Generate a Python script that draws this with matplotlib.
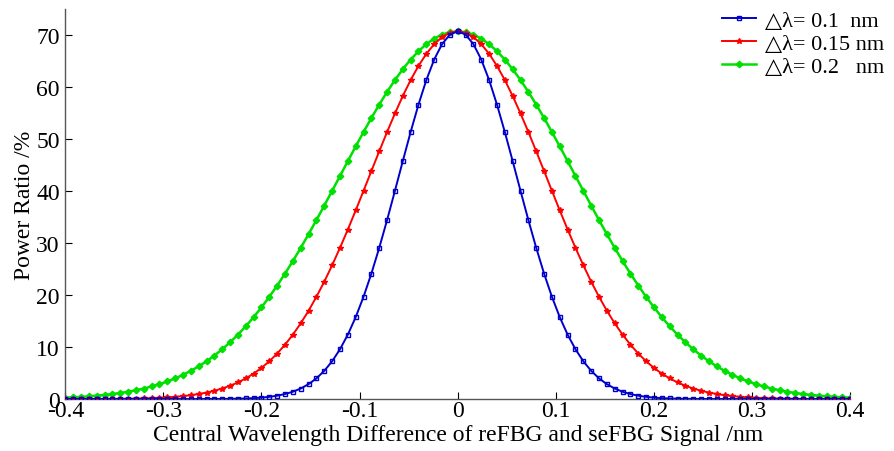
import numpy as np
import matplotlib
matplotlib.use("Agg")
import matplotlib.pyplot as plt

plt.rcParams['font.family'] = ['Liberation Serif', 'DejaVu Serif']
plt.rcParams['mathtext.fontset'] = 'stix'

# x grid: -0.4 .. 0.4 nm, 101 samples
x = np.linspace(-0.4, 0.4, 101)

blue = [0.0, 0.0, 0.0, 0.0, 0.0, 0.0, 0.0, 0.0, 0.0, 0.0, 0.0, 0.0, 0.0, 0.0, 0.0, 0.0, 0.0, 0.0,
        0.01, 0.01, 0.02, 0.04, 0.07, 0.11, 0.17, 0.27, 0.42, 0.64, 0.96, 1.40, 2.02, 2.86, 3.97,
        5.42, 7.26, 9.57, 12.38, 15.74, 19.66, 24.12, 29.07, 34.41, 40.03, 45.74, 51.34, 56.61,
        61.33, 65.27, 68.23, 70.07,
        70.7,
        70.07, 68.23, 65.27, 61.33, 56.61, 51.34, 45.74, 40.03, 34.41, 29.07, 24.12, 19.66, 15.74,
        12.38, 9.57, 7.26, 5.42, 3.97, 2.86, 2.02, 1.40, 0.96, 0.64, 0.42, 0.27, 0.17, 0.11, 0.07,
        0.04, 0.02, 0.01, 0.01,
        0.0, 0.0, 0.0, 0.0, 0.0, 0.0, 0.0, 0.0, 0.0, 0.0, 0.0, 0.0, 0.0, 0.0, 0.0, 0.0, 0.0, 0.0]

red = [0.00, 0.01, 0.01, 0.01, 0.02, 0.02, 0.03, 0.05, 0.07, 0.09, 0.13, 0.17, 0.24, 0.32, 0.42,
       0.56, 0.73, 0.96, 1.24, 1.59, 2.02, 2.55, 3.19, 3.97, 4.89, 5.99, 7.26, 8.75, 10.45, 12.38,
       14.56, 16.98, 19.66, 22.57, 25.72, 29.07, 32.59, 36.26, 40.03, 43.84, 47.63, 51.34, 54.90,
       58.26, 61.33, 64.05, 66.37, 68.23, 69.59, 70.42,
       70.7,
       70.42, 69.59, 68.23, 66.37, 64.05, 61.33, 58.26, 54.90, 51.34, 47.63, 43.84, 40.03, 36.26,
       32.59, 29.07, 25.72, 22.57, 19.66, 16.98, 14.56, 12.38, 10.45, 8.75, 7.26, 5.99, 4.89, 3.97,
       3.19, 2.55, 2.02, 1.59, 1.24, 0.96, 0.73, 0.56, 0.42, 0.32, 0.24, 0.17, 0.13, 0.09, 0.07,
       0.05, 0.03, 0.02, 0.02, 0.01, 0.01, 0.01, 0.00]

green = [0.27, 0.34, 0.42, 0.52, 0.64, 0.79, 0.96, 1.16, 1.40, 1.69, 2.02, 2.41, 2.86, 3.37, 3.97,
         4.65, 5.42, 6.29, 7.26, 8.36, 9.57, 10.91, 12.38, 13.99, 15.74, 17.63, 19.66, 21.82, 24.12,
         26.53, 29.07, 31.70, 34.41, 37.20, 40.03, 42.88, 45.74, 48.56, 51.34, 54.03, 56.61, 59.05,
         61.33, 63.41, 65.27, 66.88, 68.23, 69.30, 70.07, 70.54,
         70.7,
         70.54, 70.07, 69.30, 68.23, 66.88, 65.27, 63.41, 61.33, 59.05, 56.61, 54.03, 51.34, 48.56,
         45.74, 42.88, 40.03, 37.20, 34.41, 31.70, 29.07, 26.53, 24.12, 21.82, 19.66, 17.63, 15.74,
         13.99, 12.38, 10.91, 9.57, 8.36, 7.26, 6.29, 5.42, 4.65, 3.97, 3.37, 2.86, 2.41, 2.02, 1.69,
         1.40, 1.16, 0.96, 0.79, 0.64, 0.52, 0.42, 0.34, 0.27]

labels = ['△λ= 0.1  nm', '△λ= 0.15 nm', '△λ= 0.2   nm']
xticks = [-0.4, -0.3, -0.2, -0.1, 0, 0.1, 0.2, 0.3, 0.4]
xticklabels = ['-0.4', '-0.3', '-0.2', '-0.1', '0', '0.1', '0.2', '0.3', '0.4']
yticks = [0, 10, 20, 30, 40, 50, 60, 70]

fig = plt.figure(figsize=(8.94, 4.52), dpi=100)
ax = fig.add_axes([0.073, 0.115, 0.878, 0.863])

ax.plot(x, green, color='#00E000', lw=1.8, marker='D', ms=3.3, mfc='#00E000', mec='#00E000',
        label=labels[2], zorder=2)
ax.plot(x, red, color='#FF0000', lw=1.4, marker='*', ms=4.0, mfc='#FF0000', mec='#FF0000',
        label=labels[1], zorder=3)
ax.plot(x, blue, color='#0000CC', lw=1.4, marker='s', ms=3.2, mfc='none', mec='#0000CC',
        mew=1.0, label=labels[0], zorder=4)

ax.set_xlim(-0.4, 0.4)
ax.set_ylim(0, 75)
ax.set_xticks(xticks)
ax.set_xticklabels(xticklabels)
ax.set_yticks(yticks)
ax.tick_params(direction='in', labelsize=17, length=5, width=0.8)
ax.tick_params(axis='x', pad=1)
ax.tick_params(axis='y', pad=4)
for s in ['top', 'right']:
    ax.spines[s].set_visible(False)
for s in ['left', 'bottom']:
    ax.spines[s].set_color('#555555')
    ax.spines[s].set_linewidth(1.0)

ax.set_xlabel('Central Wavelength Difference of reFBG and seFBG Signal /nm', fontsize=17, labelpad=2)
ax.set_ylabel('Power Ratio /%', fontsize=17, labelpad=1)

h, l = ax.get_legend_handles_labels()
order = [2, 1, 0]
leg = ax.legend([h[i] for i in order], [l[i] for i in order], loc='upper right',
                bbox_to_anchor=(1.06, 1.03), frameon=False, fontsize=16,
                handlelength=1.5, handletextpad=0.4, labelspacing=0.1, borderaxespad=0.2)

fig.savefig('out.png', dpi=100)
